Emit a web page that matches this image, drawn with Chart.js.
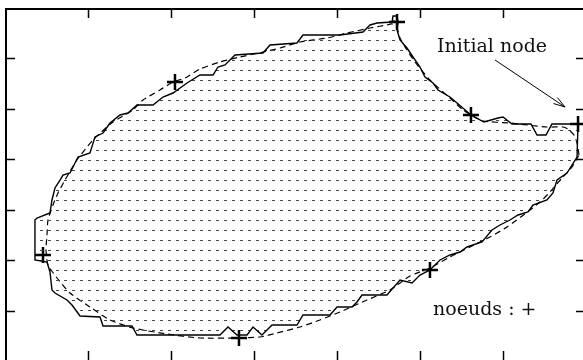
<!DOCTYPE html>
<html>
<head>
<meta charset="utf-8">
<script src="https://cdn.jsdelivr.net/npm/chart.js@4.4.1/dist/chart.umd.min.js"></script>
<style>
  html, body { margin: 0; padding: 0; background: #fff; }
  #wrap { width: 583px; height: 360px; overflow: hidden; }
  canvas { display: block; }
</style>
</head>
<body>
<div id="wrap"><canvas id="plot" width="592" height="366"></canvas></div>
<script>
// jagged contour (solid line), closed
const outlineX = [6.904, 6.651, 6.590, 6.518, 6.410, 6.337, 6.108, 6.000, 5.940, 5.771,
  5.614, 5.446, 5.361, 5.217, 5.157, 5.060, 5.000, 4.916, 4.843, 4.759,
  4.723, 4.735, 4.723, 4.675, 4.663, 4.482, 4.398, 4.313, 4.036, 3.590,
  3.518, 3.193, 3.108, 2.771, 2.651, 2.566, 2.506, 2.349, 2.193, 2.024,
  1.904, 1.783, 1.590, 1.482, 1.386, 1.265, 1.181, 1.084, 1.024, 0.880,
  0.783, 0.699, 0.663, 0.602, 0.566, 0.542, 0.386, 0.361, 0.361, 0.506,
  0.542, 0.566, 0.602, 0.747, 0.807, 0.904, 1.145, 1.181, 1.530, 1.590,
  2.590, 2.687, 2.795, 2.916, 2.988, 3.096, 3.217, 3.518, 3.590, 3.916,
  4.000, 4.181, 4.241, 4.301, 4.602, 4.759, 4.904, 5.000, 5.120, 5.241,
  5.361, 5.482, 5.566, 5.747, 5.867, 5.964, 6.084, 6.181, 6.301, 6.361,
  6.530, 6.602, 6.651, 6.771, 6.892, 6.904];
const outlineY = [4.700, 4.700, 4.700, 4.481, 4.481, 4.700, 4.700, 4.838, 4.819, 4.739,
  4.878, 5.116, 5.235, 5.374, 5.513, 5.632, 5.830, 6.028, 6.207, 6.365,
  6.564, 6.722, 6.841, 6.841, 6.722, 6.702, 6.663, 6.524, 6.464, 6.464,
  6.306, 6.266, 6.108, 6.068, 5.870, 5.830, 5.671, 5.671, 5.513, 5.314,
  5.235, 5.076, 5.076, 4.918, 4.878, 4.719, 4.521, 4.442, 4.125, 4.045,
  3.728, 3.688, 3.589, 3.431, 3.193, 2.935, 2.836, 2.796, 2.003, 1.963,
  1.765, 1.408, 1.348, 1.210, 1.110, 0.892, 0.873, 0.694, 0.694, 0.516,
  0.516, 0.674, 0.516, 0.516, 0.674, 0.516, 0.714, 0.714, 0.912, 0.912,
  1.071, 1.071, 1.170, 1.309, 1.309, 1.606, 1.547, 1.705, 1.804, 2.003,
  2.102, 2.161, 2.261, 2.360, 2.598, 2.697, 2.796, 2.895, 2.955, 3.093,
  3.193, 3.331, 3.589, 3.728, 4.045, 4.700];

// smooth curve through the nodes (dashed line), closed
const splineX = [6.916, 6.892, 6.855, 6.783, 6.723, 6.530, 6.289, 6.084, 5.759, 5.614,
  5.518, 5.361, 5.120, 4.940, 4.843, 4.759, 4.723, 4.663, 4.602, 4.398,
  4.120, 3.880, 3.554, 3.313, 3.108, 2.831, 2.590, 2.349, 2.169, 2.024,
  1.867, 1.663, 1.542, 1.301, 1.060, 0.867, 0.723, 0.639, 0.578, 0.518,
  0.506, 0.494, 0.518, 0.627, 0.783, 1.024, 1.265, 1.542, 1.952, 2.349,
  2.819, 3.072, 3.277, 3.554, 3.795, 4.036, 4.361, 4.639, 4.880, 5.120,
  5.361, 5.602, 5.843, 6.048, 6.325, 6.446, 6.566, 6.711, 6.831, 6.916];
const splineY = [4.085, 4.323, 4.481, 4.600, 4.640, 4.640, 4.680, 4.719, 4.759, 4.878,
  4.977, 5.215, 5.572, 5.929, 6.167, 6.405, 6.603, 6.683, 6.663, 6.603,
  6.504, 6.405, 6.326, 6.207, 6.127, 6.028, 5.929, 5.790, 5.612, 5.532,
  5.374, 5.176, 4.977, 4.739, 4.382, 3.986, 3.589, 3.331, 3.093, 2.796,
  2.499, 2.201, 1.904, 1.646, 1.348, 1.071, 0.813, 0.654, 0.535, 0.456,
  0.456, 0.476, 0.555, 0.674, 0.813, 0.972, 1.210, 1.408, 1.686, 1.844,
  2.062, 2.261, 2.459, 2.657, 2.994, 3.153, 3.351, 3.629, 3.847, 4.085];

// nodes (+)
const nodeX = [6.904, 4.723, 5.614, 5.120, 2.819, 0.458, 2.048];
const nodeY = [4.700, 6.722, 4.878, 1.804, 0.456, 2.102, 5.532];

// arrow pointing at the initial node
const arrowX = [5.904, 6.747];
const arrowY = [5.969, 5.037];

const xTicks = [1, 2, 3, 4, 5, 6];
const yTicks = [1, 2, 3, 4, 5, 6];

const notes = [
    { text: "Initial node", x: 5.205, y: 6.127 },
    { text: "noeuds : +", x: 5.157, y: 0.912 }
];

const toPoints = (xs, ys) => xs.map((x, i) => ({ x: x, y: ys[i] }));

function dotPattern(ctx) {
    const tile = document.createElement("canvas");
    tile.width = 8;
    tile.height = 10;
    const t = tile.getContext("2d");
    t.fillStyle = "#454545";
    t.fillRect(0, 0, 3, 1);
    return ctx.createPattern(tile, "repeat");
}

// frame with inward ticks, arrow head and the two notes
const framePlugin = {
    id: "frame",
    afterDatasetsDraw(chart) {
        const { ctx, chartArea: a, scales: { x, y } } = chart;
        ctx.save();
        ctx.strokeStyle = "#000";
        ctx.lineWidth = 2;
        ctx.strokeRect(a.left + 1, a.top + 1, a.right - a.left - 1, a.bottom - a.top - 1);

        ctx.lineWidth = 1.5;
        ctx.beginPath();
        xTicks.forEach(v => {
            const px = Math.round(x.getPixelForValue(v)) + 0.5;
            ctx.moveTo(px, a.top); ctx.lineTo(px, a.top + 10);
            ctx.moveTo(px, a.bottom); ctx.lineTo(px, a.bottom - 10);
        });
        yTicks.forEach(v => {
            const py = Math.round(y.getPixelForValue(v)) + 0.5;
            ctx.moveTo(a.left, py); ctx.lineTo(a.left + 10, py);
            ctx.moveTo(a.right, py); ctx.lineTo(a.right - 10, py);
        });
        ctx.stroke();

        // arrow head
        const x0 = x.getPixelForValue(arrowX[0]), y0 = y.getPixelForValue(arrowY[0]);
        const x1 = x.getPixelForValue(arrowX[1]), y1 = y.getPixelForValue(arrowY[1]);
        const ang = Math.atan2(y1 - y0, x1 - x0);
        ctx.lineWidth = 1;
        ctx.beginPath();
        [0.3, -0.3].forEach(d => {
            ctx.moveTo(x1, y1);
            ctx.lineTo(x1 - 12 * Math.cos(ang + d), y1 - 12 * Math.sin(ang + d));
        });
        ctx.stroke();

        ctx.fillStyle = "#111";
        ctx.font = "19px 'DejaVu Serif'";
        ctx.textBaseline = "alphabetic";
        notes.forEach(n => ctx.fillText(n.text, x.getPixelForValue(n.x), y.getPixelForValue(n.y)));
        ctx.restore();
    }
};

const ctx = document.getElementById("plot").getContext("2d");

new Chart(ctx, {
    type: "scatter",
    data: {
        datasets: [
            {
                data: toPoints(outlineX, outlineY),
                showLine: true,
                borderColor: "#000",
                borderWidth: 1.4,
                backgroundColor: dotPattern(ctx),
                fill: "shape",
                pointRadius: 0,
                tension: 0
            },
            {
                data: toPoints(splineX, splineY),
                showLine: true,
                borderColor: "#000",
                borderWidth: 1.2,
                borderDash: [6, 4],
                fill: false,
                pointRadius: 0,
                tension: 0.2
            },
            {
                data: toPoints(nodeX, nodeY),
                showLine: false,
                pointStyle: "cross",
                pointRadius: 8,
                borderColor: "#000",
                borderWidth: 2.5
            },
            {
                data: toPoints(arrowX, arrowY),
                showLine: true,
                borderColor: "#000",
                borderWidth: 1,
                fill: false,
                pointRadius: 0
            }
        ]
    },
    options: {
        responsive: false,
        animation: false,
        layout: { autoPadding: false, padding: { left: 5, top: 8, right: 6, bottom: 5 } },
        scales: {
            x: { type: "linear", min: 0, max: 7, display: false },
            y: { type: "linear", min: 0, max: 7, display: false }
        },
        plugins: {
            legend: { display: false },
            tooltip: { enabled: false }
        }
    },
    plugins: [framePlugin]
});
</script>
</body>
</html>
